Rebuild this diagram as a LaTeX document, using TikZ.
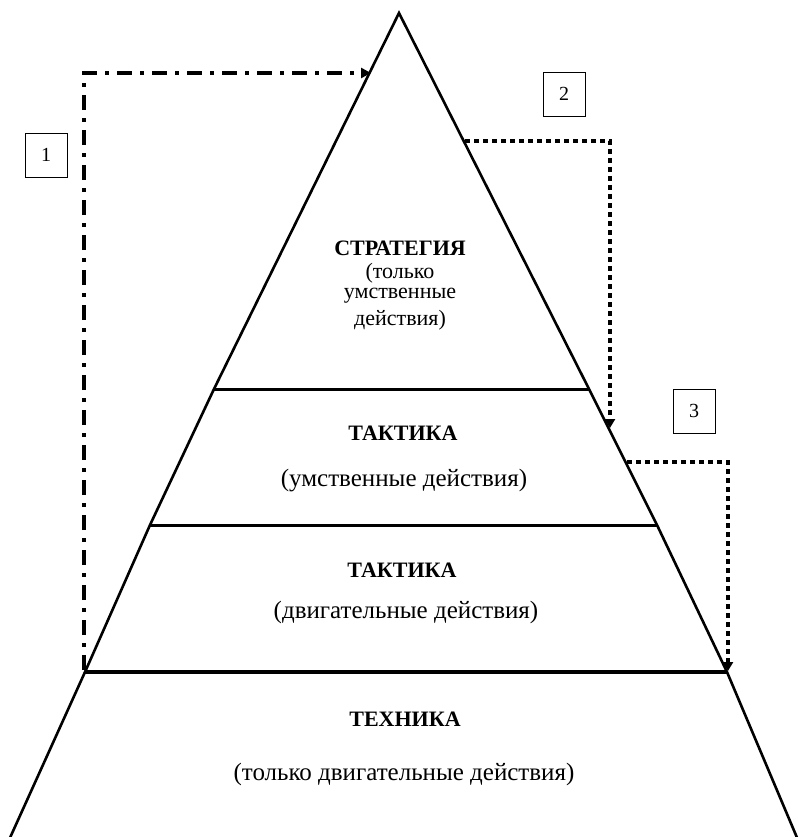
\documentclass[tikz,border=0pt]{standalone}
\usepackage{fontspec}
\setmainfont{Liberation Serif}
\usetikzlibrary{arrows.meta}
\begin{document}
\begin{tikzpicture}[x=1pt,y=-1pt,
  edge/.style={line width=2.6pt, line join=miter},
  level/.style={line width=3pt},
  baseline/.style={line width=4.2pt},
  dashdot/.style={line width=4pt, dash pattern=on 15pt off 8pt on 4pt off 8pt, -{Triangle[length=10pt,width=10pt]}},
  dotline/.style={line width=4.5pt, dash pattern=on 5pt off 4pt, -{Triangle[length=9pt,width=10pt]}},
  title/.style={font=\fontsize{22}{24}\selectfont\bfseries, inner sep=0pt},
  sub/.style={font=\fontsize{25}{28}\selectfont, inner sep=0pt},
  ssub/.style={font=\fontsize{22}{24}\selectfont, inner sep=0pt},
  numbox/.style={draw, line width=0.9pt, minimum width=42pt, minimum height=44pt, inner sep=0pt, font=\fontsize{20}{22}\selectfont}
]
\useasboundingbox (0,0) rectangle (799,837);
% outline points
\coordinate (apex) at (399,13);
\coordinate (l1) at (214,389);
\coordinate (r1) at (589,389);
\coordinate (l2) at (150,525);
\coordinate (r2) at (657,525);
\coordinate (l3) at (85,672);
\coordinate (r3) at (727,672);
\coordinate (lb) at (9,840);
\coordinate (rb) at (798,840);
\draw[edge] (lb) -- (l3) -- (l2) -- (l1) -- (apex) -- (r1) -- (r2) -- (r3) -- (rb);
\draw[level] (l1) -- (r1);
\draw[level] (l2) -- (r2);
\draw[baseline] (l3) -- (r3);

% texts
\node[title] (strat) at (400,248) {СТРАТЕГИЯ};
\node[ssub] (s1) at (400,273) {(только};
\node[ssub] (s2) at (400,296) {умственные};
\node[ssub] (s3) at (400,320) {действия)};
\node[title] (takt1) at (403,433) {ТАКТИКА};
\node[sub] (takt1s) at (404,481) {(умственные действия)};
\node[title] (takt2) at (402,570) {ТАКТИКА};
\node[sub] (takt2s) at (406,612) {(двигательные действия)};
\node[title] (tech) at (405,719) {ТЕХНИКА};
\node[sub] (techs) at (404,774) {(только двигательные действия)};

% number boxes
\node[numbox] (n1) at (46,155) {1};
\node[numbox] (n2) at (564,94) {2};
\node[numbox] (n3) at (694,411) {3};

% connectors
\coordinate (a1s) at (84,670);
\coordinate (a1c) at (84,73);
\coordinate (a1e) at (371,73);
\draw[dashdot] (a1s) -- (a1c) -- (a1e);

\coordinate (a2s) at (465,141);
\coordinate (a2c) at (610,141);
\coordinate (a2e) at (610,428);
\draw[dotline] (a2s) -- (a2c) -- (a2e);

\coordinate (a3s) at (627,462);
\coordinate (a3c) at (728,462);
\coordinate (a3e) at (728,671);
\draw[dotline] (a3s) -- (a3c) -- (a3e);
\end{tikzpicture}
\end{document}
